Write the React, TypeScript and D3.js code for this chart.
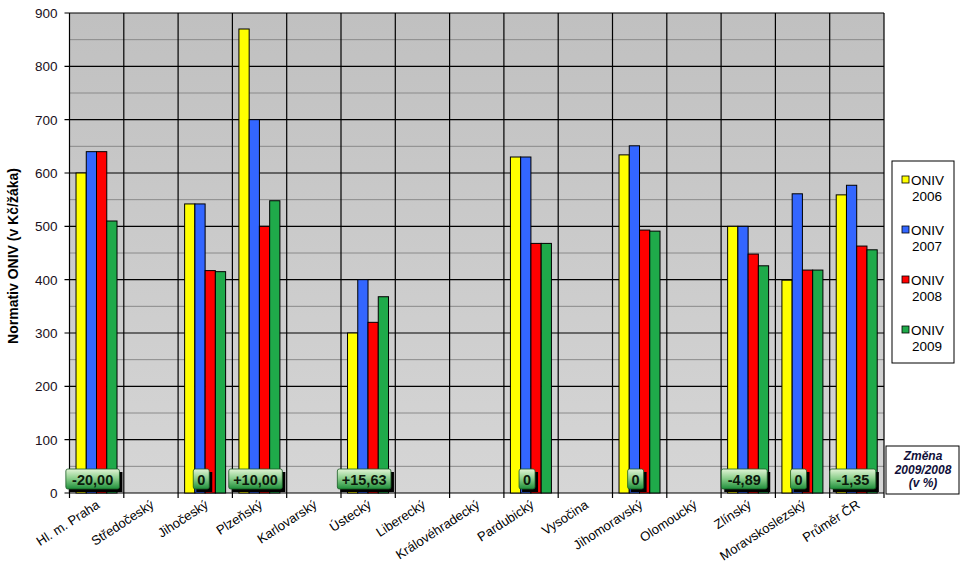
import React from "react";
import * as d3 from "d3";

const categories = [
  "Hl. m. Praha", "Středočeský", "Jihočeský", "Plzeňský", "Karlovarský", "Ústecký",
  "Liberecký", "Královéhradecký", "Pardubický", "Vysočina", "Jihomoravský",
  "Olomoucký", "Zlínský", "Moravskoslezský", "Průměr ČR",
];
const seriesNames = ["ONIV 2006", "ONIV 2007", "ONIV 2008", "ONIV 2009"];
const oniv2006 = [600, 0, 542, 870, 0, 300, 0, 0, 630, 0, 634, 0, 500, 399, 559];
const oniv2007 = [640, 0, 542, 700, 0, 400, 0, 0, 630, 0, 651, 0, 500, 561, 577];
const oniv2008 = [640, 0, 417, 500, 0, 320, 0, 0, 468, 0, 493, 0, 448, 418, 463];
const oniv2009 = [510, 0, 415, 548, 0, 368, 0, 0, 468, 0, 491, 0, 426, 418, 456];
const changeCats = ["Hl. m. Praha", "Jihočeský", "Plzeňský", "Ústecký", "Pardubický", "Jihomoravský", "Zlínský", "Moravskoslezský", "Průměr ČR"];
const changeLabels = ["-20,00", "0", "+10,00", "+15,63", "0", "0", "-4,89", "0", "-1,35"];
const yTicks = [0, 100, 200, 300, 400, 500, 600, 700, 800, 900];
const colors = ["#FFFF00", "#3366FF", "#FF0000", "#1FAA4A"];

const W = 960, H = 578;
const L = 69.5, R = 884, T = 13, B = 493;

export default function App() {
  const series = [oniv2006, oniv2007, oniv2008, oniv2009];
  const x = d3.scaleBand<string>().domain(categories).range([L, R]).padding(0);
  const bw = x.bandwidth();
  const x1 = d3.scaleBand<string>().domain(seriesNames).range([bw * 0.12, bw * 0.875]).padding(0);
  const y = d3.scaleLinear().domain([0, 900]).range([B, T]);
  const minor = d3.range(50, 900, 100);
  const font = "'Liberation Sans', Arial, sans-serif";

  return (
    <svg width={W} height={H} style={{ position: "absolute", left: 0, top: 0 }} fontFamily={font}>
      <defs>
        <linearGradient id="bg" x1="0" y1="0" x2="0" y2="1">
          <stop offset="0" stopColor="#C0C0C0" />
          <stop offset="1" stopColor="#D6D6D6" />
        </linearGradient>
        <linearGradient id="gbox" x1="0" y1="0" x2="0" y2="1">
          <stop offset="0" stopColor="#E2F4D6" />
          <stop offset="0.45" stopColor="#8FD08F" />
          <stop offset="1" stopColor="#1E8F3A" />
        </linearGradient>
      </defs>
      <rect x={0} y={0} width={W} height={H} fill="#fff" />
      <rect x={L} y={T} width={R - L} height={B - T} fill="url(#bg)" />
      {minor.map((v) => (
        <line key={"m" + v} x1={L} x2={R} y1={y(v)} y2={y(v)} stroke="#8A8A8A" strokeWidth={1} />
      ))}
      {yTicks.map((v) => (
        <line key={"g" + v} x1={L - 5} x2={R} y1={y(v)} y2={y(v)} stroke="#000" strokeWidth={1.2} />
      ))}
      {categories.map((c, i) => (
        <line key={"v" + i} x1={x(c)!} x2={x(c)!} y1={T} y2={B + 5} stroke="#000" strokeWidth={1.2} />
      ))}
      <line x1={R} x2={R} y1={T} y2={B + 5} stroke="#000" strokeWidth={1.2} />
      {categories.map((c, i) =>
        series.map((s, j) => (
          <rect
            key={c + j}
            x={x(c)! + x1(seriesNames[j])!}
            y={y(s[i])}
            width={x1.bandwidth()}
            height={B - y(s[i])}
            fill={colors[j]}
            stroke="#000"
            strokeWidth={1}
          />
        ))
      )}
      {yTicks.map((v) => (
        <text key={"t" + v} x={L - 12} y={y(v)} dy="0.36em" textAnchor="end" fontSize={13.5} fill="#1a1020">
          {v}
        </text>
      ))}
      <text
        transform={`translate(18,256) rotate(-90)`}
        textAnchor="middle"
        fontSize={14}
        fontWeight="bold"
      >
        Normativ ONIV (v Kč/žáka)
      </text>
      {categories.map((c) => (
        <text
          key={"xl" + c}
          transform={`translate(${x(c)! + bw / 2 + 4},${B + 14}) rotate(-33)`}
          textAnchor="end"
          fontSize={13}
        >
          {c}
        </text>
      ))}
      {changeCats.map((c, i) => {
        const label = changeLabels[i];
        const w = label.length <= 1 ? 16 : label.length * 7.6 + 8;
        const cx = x(c)! + bw / 2 - 4;
        const bx = cx - w / 2;
        const by = 469;
        return (
          <g key={"cb" + c}>
            <rect x={bx + 3} y={by + 3} width={w} height={20} fill="#000" />
            <rect x={bx} y={by} width={w} height={20} rx={2} fill="url(#gbox)" stroke="#1a5a25" strokeWidth={0.8} />
            <text x={cx} y={by + 15.5} textAnchor="middle" fontSize={14.5} fontWeight="bold" fill="#0b1a0b">
              {label}
            </text>
          </g>
        );
      })}
      <rect x={892} y={161} width={62} height={202} fill="#fff" stroke="#000" strokeWidth={1} />
      {seriesNames.map((n, j) => {
        const yy = 180 + j * 50;
        const parts = n.split(" ");
        return (
          <g key={"lg" + n}>
            <rect x={902} y={yy - 4} width={7} height={7} fill={colors[j]} stroke="#000" strokeWidth={0.8} />
            <text x={911} y={yy + 5} fontSize={13.5}>{parts[0]}</text>
            <text x={912} y={yy + 21} fontSize={13.5}>{parts[1]}</text>
          </g>
        );
      })}
      <rect x={886} y={446} width={73} height={48} fill="#fff" stroke="#000" strokeWidth={1} />
      <g fontSize={12} fontWeight="bold" fontStyle="italic" fill="#10103a" textAnchor="middle">
        <text x={923} y={460}>Změna</text>
        <text x={923} y={473.5}>2009/2008</text>
        <text x={923} y={487}>(v %)</text>
      </g>
    </svg>
  );
}
